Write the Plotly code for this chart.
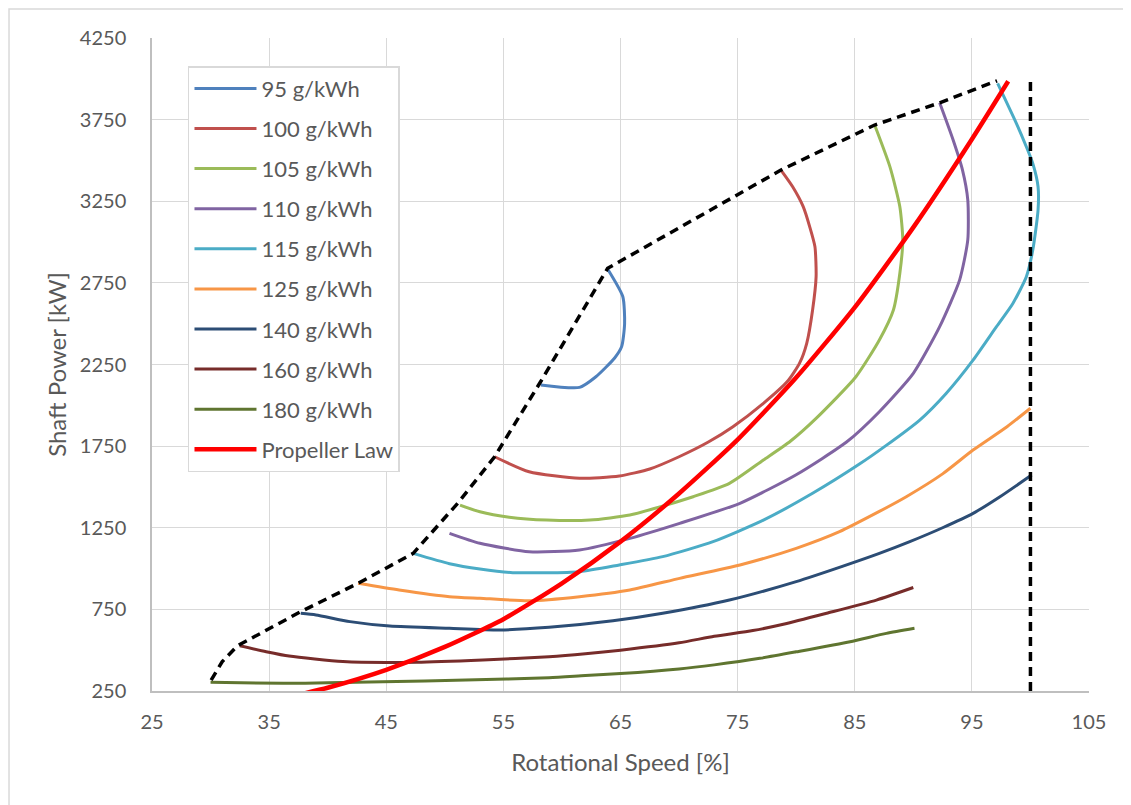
import plotly.graph_objects as go

# ---- data ----
x95 = [58.2, 61.5, 62.9, 64.5, 65.1, 65.35, 65.2, 63.9]
y95 = [2125, 2110, 2175, 2290, 2360, 2500, 2665, 2835]

x100 = [54.25, 57.2, 61.5, 64.9, 67.5, 70.0, 72.5, 74.6, 77.2, 79.3, 80.3, 80.9, 81.4, 81.7, 81.6, 81.15, 80.6, 79.7, 78.7]
y100 = [1685, 1593, 1553, 1567, 1610, 1685, 1775, 1869, 2012, 2150, 2260, 2380, 2584, 2788, 2972, 3095, 3217, 3339, 3441]

x105 = [51.3, 53.0, 55.5, 58.7, 62.4, 65.8, 68.9, 71.2, 74.3, 77.2, 79.5, 81.7, 85.1, 87.1, 88.3, 88.85, 89.1, 88.85, 88.0, 86.7]
y105 = [1389, 1348, 1315, 1297, 1297, 1328, 1389, 1440, 1522, 1665, 1780, 1920, 2175, 2400, 2584, 2809, 3013, 3217, 3462, 3717]

x110 = [50.4, 53.0, 57.2, 61.5, 65.8, 70.05, 75.2, 80.0, 84.3, 87.1, 90.0, 92.25, 93.95, 94.65, 94.65, 94.2, 93.4, 92.25]
y110 = [1216, 1155, 1103, 1114, 1185, 1277, 1400, 1575, 1775, 1961, 2196, 2482, 2767, 3013, 3258, 3441, 3625, 3853]

x115 = [47.3, 50.4, 53.0, 55.8, 61.5, 64.9, 68.6, 72.9, 77.2, 81.4, 85.4, 87.6, 90.55, 92.8, 95.1, 97.1, 98.5, 99.65, 100.2, 100.65, 100.65, 100.2, 99.65, 98.8, 97.2]
y115 = [1093, 1030, 997, 975, 981, 1022, 1073, 1165, 1297, 1461, 1640, 1750, 1910, 2073, 2277, 2482, 2624, 2788, 2951, 3196, 3339, 3482, 3584, 3727, 3972]

x125 = [42.6, 46.1, 50.4, 53.0, 57.2, 61.5, 65.8, 70.05, 75.2, 80.0, 83.7, 87.1, 89.4, 92.5, 95.1, 98.0, 100.0]
y125 = [910, 869, 828, 818, 803, 828, 869, 940, 1022, 1124, 1226, 1350, 1440, 1580, 1726, 1869, 1982]

x140 = [37.7, 39.0, 41.9, 45.3, 50.4, 54.7, 58.9, 64.35, 68.6, 74.3, 80.0, 84.0, 87.1, 89.7, 92.5, 95.1, 97.4, 100.1]
y140 = [726, 716, 675, 648, 634, 624, 640, 680, 726, 807, 920, 1015, 1093, 1165, 1250, 1338, 1440, 1573]

x160 = [32.5, 34.75, 36.7, 41.3, 47.6, 53.25, 58.9, 62.0, 65.0, 70.0, 73.0, 76.3, 79.0, 82.6, 86.85, 90.0]
y160 = [527, 491, 464, 430, 426, 440, 460, 478, 500, 545, 585, 620, 660, 726, 807, 884]

x180 = [30.0, 36.2, 40.0, 44.7, 51.8, 58.9, 62.0, 65.0, 70.0, 73.0, 76.9, 80.0, 84.6, 87.7, 90.1]
y180 = [303, 297, 300, 307, 317, 331, 345, 357, 385, 410, 450, 490, 552, 603, 634]

x_prop = [38, 40, 45, 50, 55, 60, 65, 70, 75, 80, 85, 90, 95, 98.1]
y_prop = [235, 270, 380, 520, 690, 910, 1165, 1460, 1790, 2170, 2600, 3090, 3630, 3985]

x_env = [30.05, 31.0, 32.3, 37.7, 42.6, 47.3, 51.1, 54.25, 58.1, 63.9, 78.7, 86.7, 92.25, 97.15]
y_env = [317, 430, 527, 736, 910, 1093, 1400, 1685, 2135, 2839, 3441, 3717, 3853, 3988]

x_max = [100, 100]
y_max = [250, 4000]

names = ["95 g/kWh", "100 g/kWh", "105 g/kWh", "110 g/kWh", "115 g/kWh",
         "125 g/kWh", "140 g/kWh", "160 g/kWh", "180 g/kWh"]
colors = ["#4F81BD", "#C0504D", "#9BBB59", "#8064A2", "#4BACC6",
          "#F79646", "#2C4D75", "#772C2A", "#5F7530"]
xs = [x95, x100, x105, x110, x115, x125, x140, x160, x180]
ys = [y95, y100, y105, y110, y115, y125, y140, y160, y180]

FONT = "Lato, 'Open Sans', sans-serif"
TXT = "#595959"

fig = go.Figure()
for i, (n, c, xv, yv) in enumerate(zip(names, colors, xs, ys)):
    fig.add_trace(go.Scatter(x=xv, y=yv, mode="lines", name=n,
                             legendgroup=f"g{i}",
                             line=dict(color=c, width=3, shape="spline", smoothing=0.6)))

fig.add_trace(go.Scatter(x=x_prop, y=y_prop, mode="lines", name="Propeller Law",
                         legendgroup="gp",
                         line=dict(color="#FF0000", width=4.5, shape="spline", smoothing=0.6)))
fig.add_trace(go.Scatter(x=x_env, y=y_env, mode="lines", showlegend=False,
                         line=dict(color="#000000", width=3.5, dash="9px,6px")))
fig.add_trace(go.Scatter(x=x_max, y=y_max, mode="lines", showlegend=False,
                         line=dict(color="#000000", width=3.5, dash="9px,6px")))

# outer chart-area border (only top and left fall inside the view)
fig.add_shape(type="rect", xref="paper", yref="paper",
              x0=-0.1526, x1=1.2, y0=-0.3, y1=1.0444,
              line=dict(color="#D9D9D9", width=1.5), fillcolor="rgba(0,0,0,0)", layer="below")

fig.update_layout(
    width=1131, height=805,
    margin=dict(l=144, r=50, t=30, b=122),
    paper_bgcolor="white", plot_bgcolor="white",
    font=dict(family=FONT, color=TXT, size=20),
    showlegend=True,
    legend=dict(x=0.0384, y=0.957, xanchor="left", yanchor="top",
                bgcolor="white", bordercolor="#D9D9D9", borderwidth=1.5,
                font=dict(size=22, color=TXT, family=FONT),
                tracegroupgap=8.5, itemwidth=62,
                entrywidth=150, entrywidthmode="pixels"),
    xaxis=dict(range=[25, 105], tick0=25, dtick=10, showgrid=True,
               gridcolor="#D9D9D9", gridwidth=1.3, zeroline=False,
               showline=True, linecolor="#BFBFBF", linewidth=1.5, ticks="",
               tickfont=dict(size=20, color=TXT), ticklabelstandoff=12,
               title=dict(text="Rotational Speed [%]", font=dict(size=24, color=TXT), standoff=22)),
    yaxis=dict(range=[250, 4250], tick0=250, dtick=500, showgrid=True,
               gridcolor="#D9D9D9", gridwidth=1.3, zeroline=False,
               showline=True, linecolor="#BFBFBF", linewidth=1.5, ticks="",
               tickfont=dict(size=20, color=TXT), ticklabelstandoff=20,
               title=dict(text="Shaft Power [kW]", font=dict(size=24, color=TXT), standoff=6)),
)

fig.write_html("out.html")
